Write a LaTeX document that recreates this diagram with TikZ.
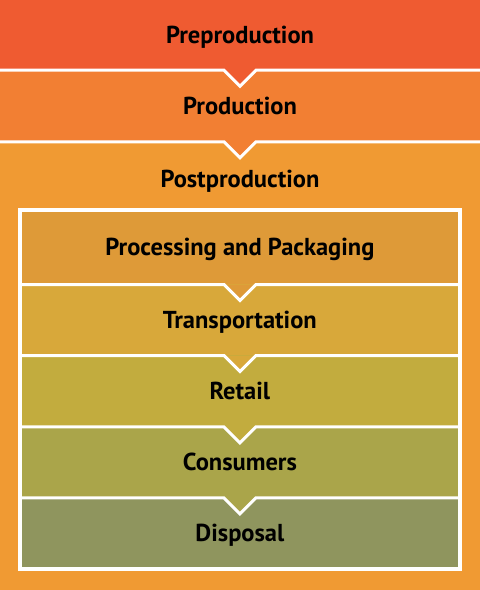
\documentclass[tikz,border=0pt]{standalone}
\usepackage{fontspec}
\setmainfont{PT Sans}

\definecolor{preC}{HTML}{EF5B31}
\definecolor{prodC}{HTML}{F27F33}
\definecolor{postC}{HTML}{F09A33}
\definecolor{procC}{HTML}{DE9A38}
\definecolor{transC}{HTML}{D8A83A}
\definecolor{retailC}{HTML}{C2AC3E}
\definecolor{consC}{HTML}{AAA54A}
\definecolor{dispC}{HTML}{8F955E}

\begin{document}
\begin{tikzpicture}[x=1pt, y=-1pt,
    band/.style={rectangle, inner sep=0pt, minimum width=480pt, text=black,
        font=\bfseries\fontsize{24.5}{28}\selectfont, text height=16.8pt, text depth=0pt},
    row/.style={band, minimum width=439.2pt},
    sep/.style={draw=white, line width=3pt, line join=miter},
    frame/.style={draw=white, line width=4pt, inner sep=0pt}]
    \useasboundingbox (0,0) rectangle (480,590);
    \node[band, fill=postC, minimum height=448.4pt] (post) at (240,365.8) {};
    \node[band, fill=prodC, minimum height=70.9pt] (prod) at (240,106.15) {Production};
    \node[band, fill=preC, minimum height=70.7pt] (pre) at (240,34.6) {Preproduction};
    \node[band] (postlabel) at (240,179.2) {Postproduction};
    \fill[preC] ([xshift=-16pt]pre.south) -- ([yshift=-16pt]pre.south) -- ([xshift=16pt]pre.south) -- cycle;
    \draw[sep] (pre.south west) -- ([xshift=-16pt]pre.south) -- ([yshift=-16pt]pre.south) -- ([xshift=16pt]pre.south) -- (pre.south east);
    \fill[prodC] ([xshift=-16pt]prod.south) -- ([yshift=-16pt]prod.south) -- ([xshift=16pt]prod.south) -- cycle;
    \draw[sep] (prod.south west) -- ([xshift=-16pt]prod.south) -- ([yshift=-16pt]prod.south) -- ([xshift=16pt]prod.south) -- (prod.south east);

    % stages after production
    \node[row, fill=procC, minimum height=74pt] (proc) at (239.9,247.3) {Processing and Packaging};
    \node[row, fill=transC, minimum height=71pt] (trans) at (239.9,319.8) {Transportation};
    \node[row, fill=retailC, minimum height=71.4pt] (retail) at (239.9,391) {Retail};
    \node[row, fill=consC, minimum height=71pt] (cons) at (239.9,462.2) {Consumers};
    \node[row, fill=dispC, minimum height=71.1pt] (disp) at (239.9,533.25) {Disposal};
    \fill[procC] ([xshift=-16pt]proc.south) -- ([yshift=-16pt]proc.south) -- ([xshift=16pt]proc.south) -- cycle;
    \draw[sep] (proc.south west) -- ([xshift=-16pt]proc.south) -- ([yshift=-16pt]proc.south) -- ([xshift=16pt]proc.south) -- (proc.south east);
    \fill[transC] ([xshift=-16pt]trans.south) -- ([yshift=-16pt]trans.south) -- ([xshift=16pt]trans.south) -- cycle;
    \draw[sep] (trans.south west) -- ([xshift=-16pt]trans.south) -- ([yshift=-16pt]trans.south) -- ([xshift=16pt]trans.south) -- (trans.south east);
    \fill[retailC] ([xshift=-16pt]retail.south) -- ([yshift=-16pt]retail.south) -- ([xshift=16pt]retail.south) -- cycle;
    \draw[sep] (retail.south west) -- ([xshift=-16pt]retail.south) -- ([yshift=-16pt]retail.south) -- ([xshift=16pt]retail.south) -- (retail.south east);
    \fill[consC] ([xshift=-16pt]cons.south) -- ([yshift=-16pt]cons.south) -- ([xshift=16pt]cons.south) -- cycle;
    \draw[sep] (cons.south west) -- ([xshift=-16pt]cons.south) -- ([yshift=-16pt]cons.south) -- ([xshift=16pt]cons.south) -- (cons.south east);
    \node[frame, minimum width=439.2pt, minimum height=358.5pt] (frame) at (239.9,389.55) {};
\end{tikzpicture}
\end{document}
